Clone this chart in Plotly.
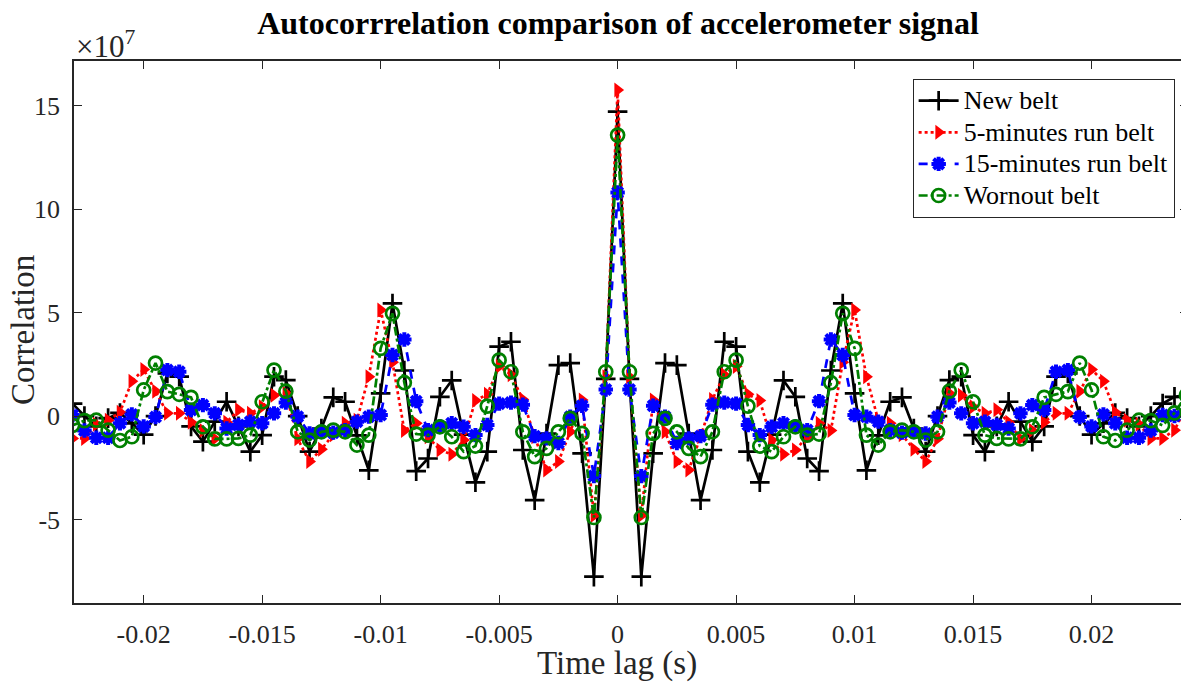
import numpy as np
import plotly.graph_objects as go

# ---- data (correlation in units of 1e7), lag index n = 0..48, sample period 0.5 ms ----
SAMPLE_PERIOD = 0.0005
SCALE_LABEL = "×10<sup>7</sup>"

new_belt_pos = [14.7, 1.8, -7.76, -1.8, 2.56, 2.46, -0.85, -4.06, -1.64, 3.59, 3.35,
                -1.72, -3.2, -0.9, 1.72, 0.93, -2.05, -2.66, 2.2, 5.44, 1.1,
                -2.62, -0.93, 0.69, 0.9, -0.6, -1.72, 0.0, 1.74, 1.9, -0.92,
                -1.72, -0.5, 0.69, -0.27, -1.24, -0.5, 1.9, 2.06, 0.0, -0.9,
                -0.35, 0.15, -0.1, -0.5, 0.0, 0.6, 0.93, 0.95]
run5_pos = [15.75, 1.9, -4.8, 0.77, -0.76, -2.2, -2.6, -1.0, 0.8, 2.0, 2.4,
            1.05, 0.75, -1.16, -1.85, -1.64, -1.0, -0.35, -0.7, 2.6, 5.12,
            1.9, -0.2, -0.35, -0.9, -1.6, -2.2, -1.1, 1.1, 1.0, 0.45,
            0.13, 0.3, -0.3, -1.1, -0.7, -0.3, 0.13, 0.13, 1.2, 2.25,
            1.68, 0.18, -0.2, -0.4, -1.08, -1.08, -0.68, 0.45]
run15_pos = [10.8, 1.28, -2.9, 0.5, -0.03, -1.3, -1.08, -0.97, 0.55, 0.65, 0.6,
             -0.43, -0.92, -0.52, -0.35, -0.5, -0.68, 0.72, 3.7, 2.95, 0.05,
             -0.03, -0.27, -0.68, -0.8, -0.76, -0.84, -0.03, 0.65, 0.13, -0.35,
             -0.27, -0.43, -0.6, 0.13, 0.53, 0.29, 2.14, 2.22, -0.05, -0.5,
             0.08, -0.35, -1.05, -1.05, -0.7, 0.05, 0.0, 0.13]
wornout_pos = [13.57, 2.14, -4.9, -0.84, -0.11, -0.76, -1.56, -1.96, -0.76, 2.14, 2.7,
               0.48, -1.45, -1.72, -1.0, -0.52, -0.92, -0.87, 1.61, 4.96, 3.27,
               -0.92, -1.4, -0.76, -0.68, -0.76, -1.16, -0.76, 1.2, 2.22, 0.69,
               -0.92, -1.08, -1.1, -1.1, -0.52, 0.9, 1.05, 1.18, 2.56, 1.26,
               -1.0, -1.18, -0.68, -0.2, -0.22, -0.45, 0.15, 1.0]

series_names = ["New belt", "5-minutes run belt", "15-minutes run belt", "Wornout belt"]
x_tick_vals = [-0.02, -0.015, -0.01, -0.005, 0, 0.005, 0.01, 0.015, 0.02]
x_tick_text = ["-0.02", "-0.015", "-0.01", "-0.005", "0", "0.005", "0.01", "0.015", "0.02"]
y_tick_vals = [-5, 0, 5, 10, 15]
y_tick_text = ["-5", "0", "5", "10", "15"]

# autocorrelation is symmetric in lag: build full series from the read half
n_max = len(new_belt_pos) - 1
lags = np.arange(-n_max, n_max + 1) * SAMPLE_PERIOD


def full(pos):
    return list(pos[:0:-1]) + list(pos)


series = [full(new_belt_pos), full(run5_pos), full(run15_pos), full(wornout_pos)]

styles = [
    dict(line=dict(color="#000000", width=2.7, dash="solid"),
         marker=dict(symbol="cross-thin", size=14, color="#000000",
                     line=dict(color="#000000", width=2.7))),
    dict(line=dict(color="#ff0000", width=2.7, dash="dot"),
         marker=dict(symbol="triangle-right", size=13, color="#ff0000",
                     line=dict(color="#ff0000", width=0))),
    dict(line=dict(color="#0000ff", width=2.7, dash="dash"),
         marker=dict(symbol="asterisk-open", size=12, color="#0000ff",
                     line=dict(color="#0000ff", width=4))),
    dict(line=dict(color="#008000", width=2.7, dash="dashdot"),
         marker=dict(symbol="circle-open", size=13, color="#008000",
                     line=dict(color="#008000", width=2.7))),
]

fig = go.Figure()
for name, ys, st in zip(series_names, series, styles):
    fig.add_trace(go.Scatter(x=lags, y=ys, mode="lines+markers",
                             name='<span style="font-size:26px">%s</span>' % name,
                             line=st["line"], marker=st["marker"]))

FONT = "Liberation Serif, Times New Roman, serif"
AX = "#262626"

# the page body adds an 8 px margin: the figure is sized 8 px smaller
W, H = 1181, 675

fig.update_layout(
    width=W, height=H,
    margin=dict(l=66, r=1, t=53, b=80, autoexpand=False),
    paper_bgcolor="white", plot_bgcolor="white",
    font=dict(family=FONT, size=25, color=AX),
    title=dict(text="<b>Autocorrrelation comparison of accelerometer signal</b>",
               x=610 / W, xref="container", xanchor="center",
               y=1 - 15 / H, yref="container", yanchor="middle",
               font=dict(family=FONT, size=32, color="#000000")),
    showlegend=True,
    legend=dict(x=0.988, xanchor="right", y=0.967, yanchor="top",
                bgcolor="white", bordercolor=AX, borderwidth=1,
                font=dict(family=FONT, size=22, color="#000000"),
                itemwidth=40, tracegroupgap=0),
    xaxis=dict(range=[-0.02294, 0.02407], tickvals=x_tick_vals, ticktext=x_tick_text,
               ticks="inside", ticklen=8, tickwidth=1, tickcolor=AX,
               showline=True, linecolor=AX, linewidth=1.5, mirror="ticks",
               showgrid=False, zeroline=False, automargin=False,
               ticklabelstandoff=7,
               tickfont=dict(family=FONT, size=26, color=AX)),
    yaxis=dict(range=[-9.03, 17.15], tickvals=y_tick_vals, ticktext=y_tick_text,
               ticks="inside", ticklen=8, tickwidth=1, tickcolor=AX,
               showline=True, linecolor=AX, linewidth=1.5, mirror="ticks",
               showgrid=False, zeroline=False, automargin=False,
               ticklabelstandoff=7,
               tickfont=dict(family=FONT, size=26, color=AX)),
)

# axis titles placed as annotations (pixel positions of the reference)
fig.add_annotation(text="Time lag (s)", xref="paper", yref="paper",
                   x=(617 - 74) / 1114, y=-(663 - 603) / 542,
                   xanchor="center", yanchor="middle", showarrow=False,
                   font=dict(family=FONT, size=33, color=AX))
fig.add_annotation(text="Correlation", xref="paper", yref="paper",
                   x=-(74 - 23) / 1114, y=(603 - 330) / 542, textangle=-90,
                   xanchor="center", yanchor="middle", showarrow=False,
                   font=dict(family=FONT, size=33, color=AX))
fig.add_annotation(text=SCALE_LABEL, xref="paper", yref="paper",
                   x=0.0, y=1.0 + 17 / 542, xanchor="left", yanchor="middle",
                   showarrow=False, font=dict(family=FONT, size=31, color=AX))

fig.write_html("out.html")
